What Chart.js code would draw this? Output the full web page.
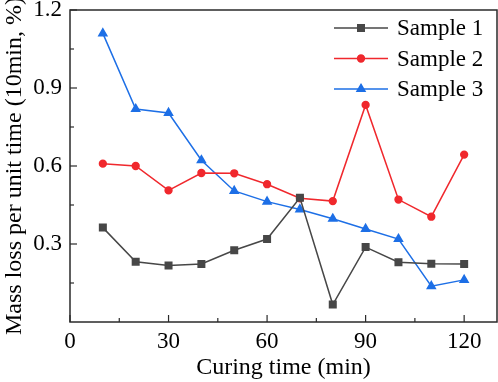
<!DOCTYPE html>
<html>
<head>
<meta charset="utf-8">
<script src="https://cdn.jsdelivr.net/npm/chart.js@4"></script>
<style>
  html, body { margin: 0; padding: 0; background: #fff; }
  #wrap { width: 498px; height: 382px; }
</style>
</head>
<body>
<div id="wrap"><canvas id="lossChart"></canvas></div>
<script>
// données
const curingTimes = [10, 20, 30, 40, 50, 60, 70, 80, 90, 100, 110, 120];
const sample1 = [0.363, 0.232, 0.217, 0.223, 0.276, 0.319, 0.478, 0.067, 0.288, 0.230, 0.224, 0.223];
const sample2 = [0.609, 0.600, 0.506, 0.573, 0.572, 0.530, 0.476, 0.465, 0.835, 0.471, 0.405, 0.644];
const sample3 = [1.110, 0.819, 0.804, 0.622, 0.504, 0.463, 0.433, 0.397, 0.358, 0.319, 0.138, 0.162];
const seriesNames = ['Sample 1', 'Sample 2', 'Sample 3'];
const xTicks = [0, 30, 60, 90, 120];
const yTicks = [0.3, 0.6, 0.9, 1.2];

const serif = '"Liberation Serif", "Times New Roman", serif';
const axisColor = '#2a2a2a';

function toPoints(values) {
    return curingTimes.map((t, i) => ({ x: t, y: values[i] }));
}

function noPadding(scale) {
    scale.paddingLeft = 0;
    scale.paddingRight = 0;
    scale.paddingTop = 0;
    scale.paddingBottom = 0;
}

// ticks vers l'intérieur + ticks mineurs + cadre
const frameTicks = {
    id: 'frameTicks',
    afterDraw(chart) {
        const ctx = chart.ctx;
        const area = chart.chartArea;
        const xs = chart.scales.x;
        const ys = chart.scales.y;
        ctx.save();
        ctx.strokeStyle = axisColor;
        ctx.lineWidth = 1.5;
        ctx.strokeRect(area.left, area.top, area.right - area.left, area.bottom - area.top);
        ctx.lineWidth = 1.2;
        for (let v = 0; v <= 130; v += 15) {
            const px = xs.getPixelForValue(v);
            const len = (v % 30 === 0) ? 7 : 4;
            ctx.beginPath();
            ctx.moveTo(px, area.bottom);
            ctx.lineTo(px, area.bottom - len);
            ctx.stroke();
        }
        for (let k = 1; k <= 8; k++) {
            const v = k * 0.15;
            const py = ys.getPixelForValue(v);
            const len = (k % 2 === 0) ? 7 : 4;
            ctx.beginPath();
            ctx.moveTo(area.left, py);
            ctx.lineTo(area.left + len, py);
            ctx.stroke();
        }
        ctx.restore();
    }
};

// légende avec ligne + marqueur
const lineLegend = {
    id: 'lineLegend',
    afterDraw(chart) {
        const ctx = chart.ctx;
        const area = chart.chartArea;
        const x0 = area.right - 163;
        ctx.save();
        chart.data.datasets.forEach((ds, i) => {
            const y = area.top + 18 + i * 30.5;
            ctx.strokeStyle = ds.borderColor;
            ctx.lineWidth = 1.5;
            ctx.beginPath();
            ctx.moveTo(x0, y);
            ctx.lineTo(x0 + 54, y);
            ctx.stroke();
            Chart.helpers.drawPoint(ctx, {
                pointStyle: ds.pointStyle,
                radius: ds.pointRadius,
                borderWidth: 1
            }, x0 + 27, y);
            ctx.fillStyle = ds.backgroundColor;
            ctx.fill();
            ctx.fillStyle = '#000';
            ctx.font = '23px ' + serif;
            ctx.textBaseline = 'middle';
            ctx.textAlign = 'left';
            ctx.fillText(ds.label, x0 + 63, y + 1);
        });
        ctx.restore();
    }
};

const styles = [
    { color: '#474747', point: 'rect', radius: 4.6 },
    { color: '#f0282d', point: 'circle', radius: 3.4 },
    { color: '#1d6fe6', point: 'triangle', radius: 4.6 }
];
const values = [sample1, sample2, sample3];

const lossChart = new Chart(document.querySelector('#lossChart'), {
    type: 'line',
    data: {
        datasets: values.map((vals, i) => ({
            label: seriesNames[i],
            data: toPoints(vals),
            borderColor: styles[i].color,
            backgroundColor: styles[i].color,
            pointBackgroundColor: styles[i].color,
            pointBorderColor: styles[i].color,
            pointStyle: styles[i].point,
            pointRadius: styles[i].radius,
            borderWidth: 1.5,
            tension: 0,
        }))
    },
    options: {
        responsive: true,
        maintainAspectRatio: false,
        animation: false,
        layout: { autoPadding: false, padding: { top: 10, right: 1, left: 0, bottom: 0 } },
        plugins: {
            legend: { display: false },
            tooltip: { enabled: false },
        },
        scales: {
            x: {
                type: 'linear',
                min: 0,
                max: 130,
                grid: { display: false, drawTicks: false, tickLength: 0 },
                border: { display: false },
                afterFit(scale) {
                    scale.height = 60;
                    noPadding(scale);
                },
                ticks: {
                    stepSize: 30,
                    includeBounds: false,
                    autoSkip: false,
                    maxRotation: 0,
                    color: '#000',
                    padding: 6,
                    font: { family: serif, size: 23, lineHeight: 1.2 },
                    callback: (v) => xTicks.includes(v) ? String(v) : '',
                },
                title: {
                    display: true,
                    text: 'Curing time (min)',
                    color: '#000',
                    font: { family: serif, size: 24, lineHeight: 1.2 },
                    padding: { top: 0, bottom: 0 },
                },
            },
            y: {
                min: 0,
                max: 1.2,
                grid: { display: false, drawTicks: false, tickLength: 0 },
                border: { display: false },
                afterFit(scale) {
                    scale.width = 70;
                    noPadding(scale);
                },
                ticks: {
                    stepSize: 0.3,
                    color: '#000',
                    padding: 8,
                    font: { family: serif, size: 23 },
                    callback: (v) => {
                        const t = yTicks.find(y => Math.abs(y - v) < 1e-6);
                        return t === undefined ? '' : t.toFixed(1);
                    },
                },
                title: {
                    display: true,
                    text: 'Mass loss per unit time (10min, %)',
                    color: '#000',
                    font: { family: serif, size: 24, lineHeight: 1.2 },
                    padding: { top: 0, bottom: 0 },
                },
            },
        },
    },
    plugins: [frameTicks, lineLegend],
});
</script>
</body>
</html>
